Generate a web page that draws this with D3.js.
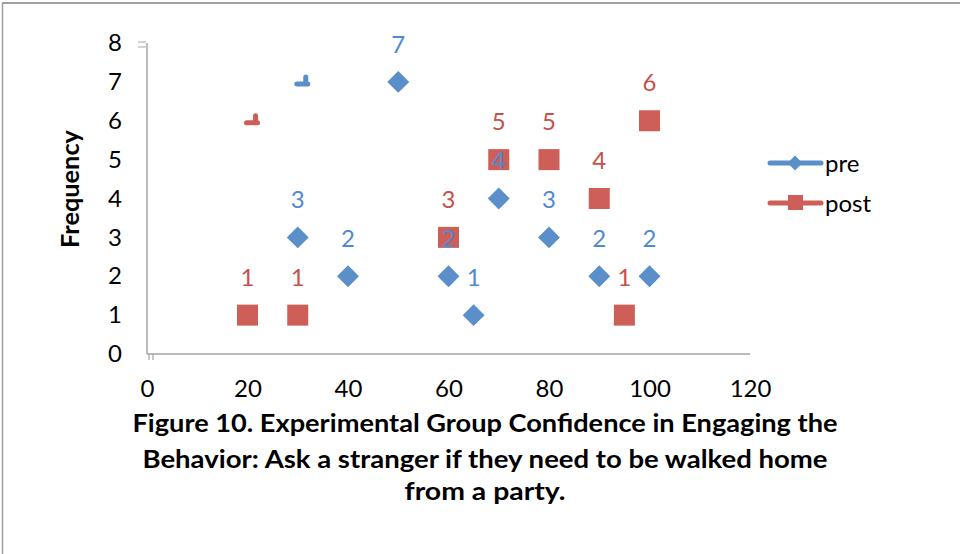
<!DOCTYPE html>
<html><head><meta charset="utf-8">
<script src="https://cdn.jsdelivr.net/npm/d3@7"></script>
<style>body{margin:0;background:#fff}svg{display:block}</style>
</head><body>
<script>
// ---- data ----
const preX  = [30, 40, 50, 60, 65, 70, 80, 90, 100];
const preY  = [3, 2, 7, 2, 1, 4, 3, 2, 2];
const postX = [20, 30, 60, 70, 80, 90, 95, 100];
const postY = [1, 1, 3, 5, 5, 4, 1, 6];
const strayPre  = [[31, 7]];
const strayPost = [[21, 6]];
const xTicks = [0, 20, 40, 60, 80, 100, 120];
const yTicks = [0, 1, 2, 3, 4, 5, 6, 7, 8];
const seriesNames = ["pre", "post"];
const titleLines = [
  "Figure 10. Experimental Group Confidence in Engaging the",
  "Behavior: Ask a stranger if they need to be walked home",
  "from a party."
];
const yTitle = "Frequency";

const W = 960, H = 554;
const blue = "#5B8FC9", red = "#CD5F58";
const blueTxt = "#4E8AD2", redTxt = "#C8504A";
const font = "Lato, 'Open Sans', sans-serif";
const fs = 24;

const svg = d3.select("body").append("svg").attr("width", W).attr("height", H);

// frame
svg.append("line").attr("x1", 2).attr("x2", W).attr("y1", 3).attr("y2", 3).attr("stroke", "#a0a0a0").attr("stroke-width", 2);
svg.append("line").attr("x1", 2.5).attr("x2", 2.5).attr("y1", 3).attr("y2", H).attr("stroke", "#a0a0a0").attr("stroke-width", 1.5);

const x = d3.scaleLinear().domain([0, 120]).range([147, 750]);
const y = d3.scaleLinear().domain([0, 8]).range([354, 43]);

// axes lines
svg.append("line").attr("x1", x(0)).attr("x2", x(0)).attr("y1", y(8)).attr("y2", y(0)).attr("stroke", "#a6a6a6").attr("stroke-width", 1.5);
svg.append("line").attr("x1", x(0)).attr("x2", x(120)).attr("y1", y(0)).attr("y2", y(0)).attr("stroke", "#a6a6a6").attr("stroke-width", 1.5);
// small tick artifacts
svg.append("path").attr("d", `M${x(0)-9},${y(8)-1}H${x(0)-1}M${x(0)-9},${y(8)+4}H${x(0)-1}`).attr("stroke", "#a6a6a6").attr("stroke-width", 1.2).attr("fill", "none");
svg.append("path").attr("d", `M${x(0)+2},${y(0)}V${y(0)+6}M${x(0)+6},${y(0)}V${y(0)+6}`).attr("stroke", "#a6a6a6").attr("stroke-width", 1.2).attr("fill", "none");

// axis tick labels via d3 axes (no domain/tick lines)
const xa = svg.append("g").attr("transform", `translate(0,${y(0)+23})`)
  .call(d3.axisBottom(x).tickValues(xTicks).tickSize(0).tickFormat(d3.format("d")));
xa.select(".domain").remove();
xa.selectAll("text").attr("font-family", font).attr("font-size", fs).attr("fill", "#000").attr("dy", "0.71em");

const ya = svg.append("g").attr("transform", `translate(${x(0)-22},0)`)
  .call(d3.axisLeft(y).tickValues(yTicks).tickSize(0).tickFormat(d3.format("d")));
ya.select(".domain").remove();
ya.selectAll("text").attr("font-family", font).attr("font-size", fs).attr("fill", "#000");

// markers
const diamond = d3.symbol().type(d3.symbolSquare).size(15.5*15.5);
const g = svg.append("g");
const pre = preX.map((v, i) => [v, preY[i]]);
const post = postX.map((v, i) => [v, postY[i]]);

g.selectAll(".pre").data(pre).join("path")
  .attr("d", diamond)
  .attr("transform", d => `translate(${x(d[0])},${y(d[1])}) rotate(45)`)
  .attr("fill", blue);
g.selectAll(".post").data(post).join("rect")
  .attr("x", d => x(d[0]) - 10.5).attr("y", d => y(d[1]) - 10.5)
  .attr("width", 21).attr("height", 21).attr("fill", red);

// stray partial markers
function stray(data, col) {
  g.selectAll(null).data(data).join("path")
    .attr("d", d => { const cx = x(d[0]), cy = y(d[1]);
      return `M${cx-6},${cy+2}H${cx+5} M${cx+3},${cy+2}V${cy-5}`; })
    .attr("stroke", col).attr("stroke-width", 5).attr("stroke-linecap", "round").attr("stroke-linejoin", "round").attr("fill", "none");
}
stray(strayPre, blue);
stray(strayPost, red);

// data labels: post first, then pre on top
function labels(data, col) {
  svg.append("g").selectAll("text").data(data).join("text")
    .attr("x", d => x(d[0])).attr("y", d => y(d[1]) - 38)
    .attr("dy", "0.36em").attr("text-anchor", "middle")
    .attr("font-family", font).attr("font-size", fs).attr("fill", col)
    .text(d => d[1]);
}
labels(post, redTxt);
labels(pre, blueTxt);

// legend
const lg = svg.append("g");
[[163, blue, "pre"], [203, red, "post"]].forEach(([ly, col, name], i) => {
  lg.append("line").attr("x1", 770).attr("x2", 821).attr("y1", ly).attr("y2", ly)
    .attr("stroke", col).attr("stroke-width", 5).attr("stroke-linecap", "round");
  if (i === 0) {
    lg.append("path").attr("d", d3.symbol().type(d3.symbolSquare).size(110))
      .attr("transform", `translate(795,${ly}) rotate(45)`).attr("fill", col);
  } else {
    lg.append("rect").attr("x", 788).attr("y", ly - 8).attr("width", 15).attr("height", 15).attr("fill", col);
  }
  lg.append("text").attr("x", 825).attr("y", ly).attr("dy", "0.36em")
    .attr("font-family", font).attr("font-size", fs).attr("fill", "#000").text(seriesNames[i]);
});

// y title
svg.append("text").attr("transform", "translate(70,189) rotate(-90)")
  .attr("text-anchor", "middle").attr("dy", "0.36em")
  .attr("font-family", font).attr("font-weight", "bold").attr("font-size", 24).attr("fill", "#000")
  .attr("textLength", 118).attr("lengthAdjust", "spacingAndGlyphs")
  .text(yTitle);

// chart title
const tY = [423, 459, 491];
const tLen = [705, 685, 161];
titleLines.forEach((t, i) => {
  svg.append("text").attr("x", 485).attr("y", tY[i]).attr("dy", "0.36em")
    .attr("text-anchor", "middle").attr("font-family", font).attr("font-weight", "bold")
    .attr("font-size", 25).attr("fill", "#000")
    .attr("textLength", tLen[i]).attr("lengthAdjust", "spacingAndGlyphs")
    .text(t);
});
</script>
</body></html>
